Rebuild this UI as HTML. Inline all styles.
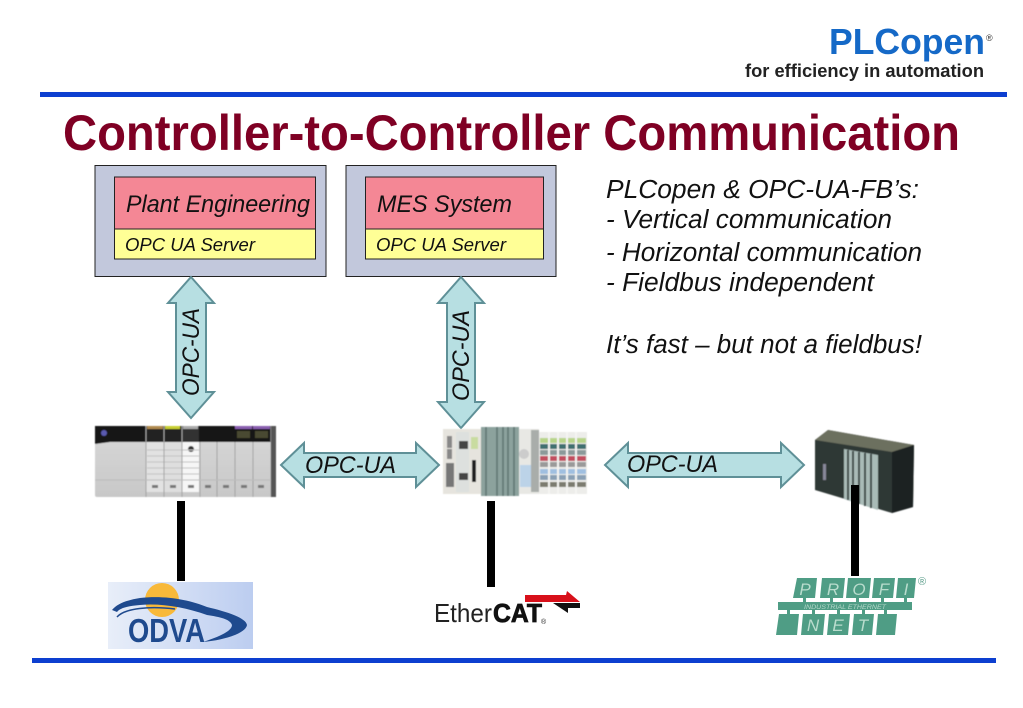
<!DOCTYPE html>
<html><head><meta charset="utf-8"><style>
html,body{margin:0;padding:0;background:#fff;width:1023px;height:708px;overflow:hidden}
svg{display:block}
text{font-family:"Liberation Sans",Arial,sans-serif}
</style></head><body>
<svg width="1023" height="708" viewBox="0 0 1023 708" xmlns="http://www.w3.org/2000/svg">
<defs>
<linearGradient id="od" x1="0" x2="1" y1="0" y2="0"><stop offset="0" stop-color="#e8eef9"/><stop offset="1" stop-color="#bccdf0"/></linearGradient>
<linearGradient id="rk" x1="0" x2="0" y1="0" y2="1"><stop offset="0" stop-color="#d8d8d8"/><stop offset="1" stop-color="#c8c8c8"/></linearGradient>
<filter id="soft" x="-5%" y="-5%" width="110%" height="110%"><feGaussianBlur stdDeviation="0.5"/></filter>
</defs>
<rect width="1023" height="708" fill="#fff"/>
<text x="985" y="54" text-anchor="end" font-size="36" font-weight="bold" fill="#1569c7" textLength="156" lengthAdjust="spacingAndGlyphs">PLCopen</text>
<text x="986" y="41" font-size="9" fill="#333">®</text>
<text x="745" y="77" font-size="18" font-weight="bold" fill="#222" textLength="239" lengthAdjust="spacingAndGlyphs">for efficiency in automation</text>
<rect x="40" y="92" width="967" height="5" fill="#0d3fd0"/>
<rect x="32" y="658" width="964" height="5" fill="#0d3fd0"/>
<text x="63" y="150" font-size="50" font-weight="bold" fill="#7f0024" textLength="897" lengthAdjust="spacingAndGlyphs">Controller-to-Controller Communication</text>

<g stroke="#222" stroke-width="1">
<rect x="95" y="165.500" width="231" height="111" fill="#c2c8dc"/>
<rect x="346" y="165.500" width="210" height="111" fill="#c2c8dc"/>
<rect x="114.500" y="177" width="201" height="52" fill="#f48795"/>
<rect x="114.500" y="229" width="201" height="30" fill="#ffff96"/>
<rect x="365.500" y="177" width="178" height="52" fill="#f48795"/>
<rect x="365.500" y="229" width="178" height="30" fill="#ffff96"/>
</g>
<g font-style="italic" fill="#111">
<text x="126" y="212" font-size="24" textLength="184" lengthAdjust="spacingAndGlyphs">Plant Engineering</text>
<text x="377" y="212" font-size="24" textLength="135" lengthAdjust="spacingAndGlyphs">MES System</text>
<text x="125" y="251" font-size="18.400" textLength="130" lengthAdjust="spacingAndGlyphs">OPC UA Server</text>
<text x="376" y="251" font-size="18.400" textLength="130" lengthAdjust="spacingAndGlyphs">OPC UA Server</text>
</g>

<g fill="#b7dfe2" stroke="#5f9097" stroke-width="2" stroke-linejoin="miter">
<polygon points="191,277 214,303 206,303 206,392 214,392 191,418 168,392 176,392 176,303 168,303"/>
<polygon points="461,277 484,303 475,303 475,402 484,402 461,428 438,402 447,402 447,303 438,303"/>
<polygon points="281,465 304,443 304,453 416,453 416,443 439,465 416,487 416,477 304,477 304,487"/>
<polygon points="605,465 628,443 628,453 781,453 781,443 804,465 781,487 781,477 628,477 628,487"/>
</g>
<g font-size="24" font-style="italic" fill="#111">
<text transform="translate(199,396) rotate(-90)" textLength="88" lengthAdjust="spacingAndGlyphs">OPC-UA</text>
<text transform="translate(469,401) rotate(-90)" textLength="91" lengthAdjust="spacingAndGlyphs">OPC-UA</text>
<text x="305" y="473" textLength="91" lengthAdjust="spacingAndGlyphs">OPC-UA</text>
<text x="627" y="472" textLength="91" lengthAdjust="spacingAndGlyphs">OPC-UA</text>
</g>

<g font-size="25.500" font-style="italic" fill="#111">
<text x="606" y="198" textLength="313" lengthAdjust="spacingAndGlyphs">PLCopen &amp; OPC-UA-FB’s:</text>
<text x="606" y="228" textLength="286" lengthAdjust="spacingAndGlyphs">- Vertical communication</text>
<text x="606" y="261" textLength="316" lengthAdjust="spacingAndGlyphs">- Horizontal communication</text>
<text x="606" y="291" textLength="268" lengthAdjust="spacingAndGlyphs">- Fieldbus independent</text>
<text x="606" y="353" textLength="316" lengthAdjust="spacingAndGlyphs">It’s fast – but not a fieldbus!</text>
</g>

<!-- left rack -->
<g filter="url(#soft)">
<rect x="95" y="426" width="181" height="71" rx="2" fill="url(#rk)"/>
<rect x="95" y="426" width="181" height="16" fill="#141414"/>
<polygon points="95,426 146,426 146,440 110,442 95,444" fill="#161616"/>
<circle cx="104" cy="433" r="3" fill="#5a5ab0"/>
<rect x="146" y="442" width="18" height="50" fill="#e2e2e2"/>
<rect x="164" y="442" width="18" height="50" fill="#dedede"/>
<rect x="182" y="442" width="17" height="50" fill="#f6f6f6"/>
<rect x="146" y="426" width="18" height="16" fill="#222"/><rect x="147" y="426" width="16" height="3" fill="#b08a50"/>
<rect x="164" y="426" width="17" height="16" fill="#222"/><rect x="165" y="426" width="15" height="3" fill="#c8cf30"/>
<rect x="182" y="426" width="17" height="16" fill="#333"/><rect x="183" y="426" width="15" height="3" fill="#aaa"/>
<rect x="235" y="426" width="17" height="3" fill="#8a5fb0"/><rect x="253" y="426" width="17" height="3" fill="#8a5fb0"/>
<rect x="237" y="431" width="13" height="7" fill="#4a4a30"/><rect x="255" y="431" width="13" height="7" fill="#4a4a30"/>
<circle cx="191" cy="449" r="3" fill="#333"/>
<path d="M147 450H199M147 456H199M147 462H199M147 468H199M147 474H199" stroke="#c2c2c2" stroke-width="1"/>
<g stroke="#a2a2a2" stroke-width="1"><path d="M146 426V497M164 426V497M182 426V497M200 442V497M217 442V497M235 442V497M253 442V497M271 426V497"/><path d="M95 480H271" stroke="#bbb"/></g>
<g fill="#777"><rect x="152" y="485" width="6" height="3"/><rect x="170" y="485" width="6" height="3"/><rect x="188" y="485" width="6" height="3"/><rect x="205" y="485" width="6" height="3"/><rect x="223" y="485" width="6" height="3"/><rect x="241" y="485" width="6" height="3"/><rect x="258" y="485" width="6" height="3"/></g>
<rect x="271" y="426" width="5" height="71" fill="#555"/>
</g>

<!-- centre controller -->
<g filter="url(#soft)">
<rect x="443" y="429" width="40" height="65" fill="#e6e4de"/>
<rect x="447" y="436" width="5" height="12" fill="#888"/><rect x="447" y="449" width="5" height="10" fill="#888"/>
<rect x="446" y="463" width="8" height="24" fill="#777"/>
<rect x="456" y="432" width="13" height="60" fill="#dde0de"/><rect x="459" y="441" width="9" height="8" fill="#444"/><rect x="459" y="473" width="9" height="7" fill="#444"/>
<rect x="472" y="460" width="4" height="22" fill="#222"/><rect x="471" y="437" width="7" height="12" fill="#c9dca0"/>
<rect x="481" y="427" width="38" height="69" fill="#8ca29d"/>
<path d="M486 427V496M497 427V496M503 427V496M508 427V496M514 427V496" stroke="#5e7270" stroke-width="1.500"/>
<rect x="519" y="429" width="20" height="65" fill="#e8e8e4"/>
<circle cx="524" cy="454" r="5" fill="#ccc"/><rect x="520" y="465" width="16" height="22" fill="#bcd3e8"/>
<rect x="531" y="430" width="8" height="62" fill="#a9adaa"/>
<rect x="539" y="432" width="48" height="62" fill="#ededea"/>
<rect x="540" y="438" width="46" height="5" fill="#b8d48a"/>
<rect x="540" y="444" width="46" height="5" fill="#3f6f70"/>
<rect x="540" y="450" width="46" height="5" fill="#8b9a9a"/>
<rect x="540" y="456" width="46" height="5" fill="#c25060"/>
<rect x="540" y="462" width="46" height="5" fill="#9a9a9a"/>
<rect x="540" y="469" width="46" height="5" fill="#a0bfe0"/>
<rect x="540" y="475" width="46" height="5" fill="#8aa0b5"/>
<rect x="540" y="482" width="46" height="5" fill="#7b7b70"/>
<path d="M549 432V494M558 432V494M567 432V494M576 432V494" stroke="#f4f4f2" stroke-width="2"/>
</g>

<!-- right PLC -->
<g filter="url(#soft)">
<polygon points="815,440 828,430 914,445 913,507 892,513 815,490" fill="#2e3836"/>
<polygon points="815,440 828,430 914,445 892,452" fill="#6c6f5e"/>
<polygon points="892,452 914,445 913,507 892,513" fill="#1f2422"/>
<polygon points="844,449 878,455 878,510 844,499" fill="#a9bbb7"/>
<path d="M848 450V500M853 451V502M859 452V504M865 453V506M871 454V508" stroke="#3a4644" stroke-width="2"/>
<rect x="823" y="464" width="3" height="16" fill="#889"/>
</g>

<!-- bars -->
<rect x="177" y="501" width="8" height="80" fill="#000"/>
<rect x="487" y="501" width="8" height="86" fill="#000"/>
<rect x="851" y="485" width="8" height="91" fill="#000"/>

<!-- ODVA -->
<rect x="108" y="582" width="145" height="67" fill="url(#od)"/>
<circle cx="162" cy="600" r="17" fill="#f8b93a"/>
<path d="M112 610C118 603 128 600 140 598C165 595 190 600 207 607C228 612 246 618 247 625C246 633 225 640 203 642C215 638 232 632 232 625C230 619 220 617 207 615C185 607 160 603 140 605C128 606 120 608 117 612Z" fill="#1f4a8e"/>
<path d="M117 617C125 608 150 606 175 609" fill="none" stroke="#1f4a8e" stroke-width="1.500"/>
<text x="128" y="642" font-size="33" font-weight="bold" fill="#1f4a8e" textLength="77" lengthAdjust="spacingAndGlyphs">ODVA</text>

<!-- EtherCAT -->
<text x="434" y="622" font-size="26" fill="#222" textLength="58" lengthAdjust="spacingAndGlyphs">Ether</text>
<text x="493" y="622" font-size="26" font-weight="bold" fill="#111" stroke="#111" stroke-width="0.800" textLength="49" lengthAdjust="spacingAndGlyphs">CAT</text>
<text x="541" y="624" font-size="7" fill="#222">®</text>
<polygon points="525,595 566,595 567,591 580,602 525,602" fill="#d8101a"/>
<polygon points="553,603 580,603 580,608 568,608 568,613" fill="#111"/>

<!-- Profinet -->
<g fill="#4f9d85">
<polygon points="797,578 817,578 815,598 793,598"/>
<polygon points="822,578 845,578 843,598 820,598"/>
<polygon points="848,578 871,578 869,598 846,598"/>
<polygon points="874,578 895,578 893,598 872,598"/>
<polygon points="898,578 916,578 914,598 896,598"/>
<rect x="778" y="602" width="134" height="8"/>
<path d="M803 598h3v4h-3zM830 598h3v4h-3zM856 598h3v4h-3zM881 598h3v4h-3zM904 598h3v4h-3zM787 610h3v4h-3zM812 610h3v4h-3zM837 610h3v4h-3zM862 610h3v4h-3zM884 610h3v4h-3z"/>
<polygon points="779,614 799,614 797,635 776,635"/>
<polygon points="803,614 825,614 823,635 801,635"/>
<polygon points="829,614 850,614 848,635 827,635"/>
<polygon points="854,614 874,614 872,635 852,635"/>
<polygon points="878,614 897,614 895,635 876,635"/>
</g>
<g font-size="17" font-style="italic" fill="#b9dccd" text-anchor="middle">
<text x="805" y="595">P</text><text x="833" y="595">R</text><text x="859" y="595">O</text><text x="884" y="595">F</text><text x="906" y="595">I</text>
<text x="813" y="631">N</text><text x="838" y="631">E</text><text x="863" y="631">T</text>
</g>
<text x="804" y="609" font-size="6.500" font-style="italic" fill="#b5d8ca" textLength="82" lengthAdjust="spacingAndGlyphs">INDUSTRIAL ETHERNET</text>
<text x="918" y="585" font-size="11" fill="#5a9d8a">®</text>
</svg>
</body></html>
